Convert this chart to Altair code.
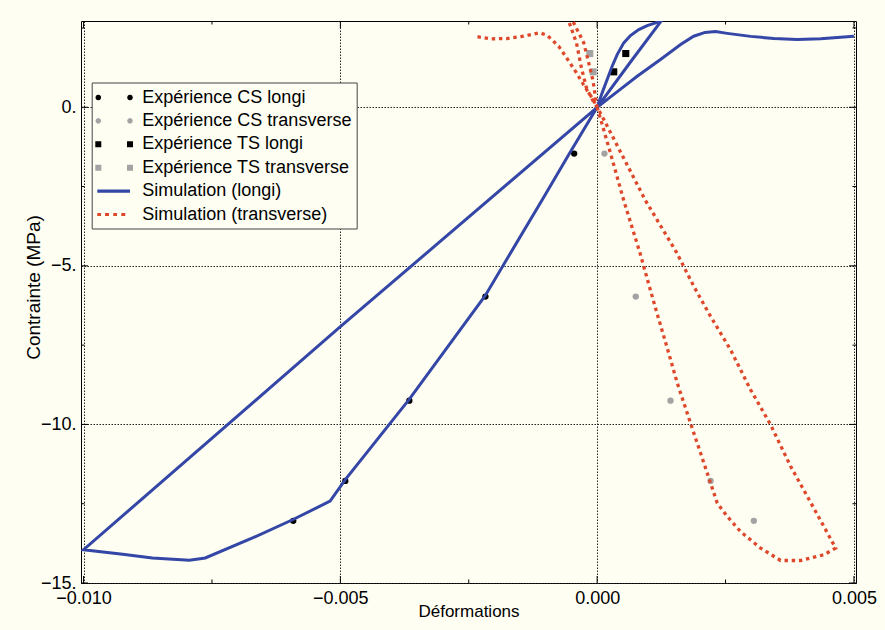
import math
import altair as alt
import pandas as pd

# ---------------- data ----------------
cs_stress = [-1.46, -5.97, -9.25, -11.78, -13.04]
cs_longi_strain = [-0.000448, -0.002176, -0.003657, -0.004904, -0.005917]
cs_trans_strain = [0.000142, 0.000752, 0.001428, 0.002208, 0.003051]

ts_stress = [1.117, 1.694]
ts_longi_strain = [0.000323, 0.000557]
ts_trans_strain = [-0.000078, -0.000144]

sim_longi_strain = [
    0.0, -0.00054, -0.00106, -0.00218, -0.00366, -0.0049, -0.0052,
    -0.00591, -0.00671, -0.00763, -0.00794, -0.00866, -0.00924, -0.0100,
    -0.005, 0.0,
    0.0000974, 0.000195, 0.000292, 0.00039, 0.000518, 0.000649, 0.000811,
    0.000974, 0.001136, 0.00127,
    0.000649, 0.0,
    0.0004, 0.000779, 0.001233, 0.001625, 0.00188, 0.002100, 0.002305,
    0.002533, 0.002988, 0.003441, 0.003897, 0.004351, 0.004741, 0.005,
]
sim_longi_stress = [
    0.0, -1.46, -2.89, -5.94, -9.21, -11.73, -12.42,
    -12.99, -13.58, -14.21, -14.28, -14.21, -14.09, -13.95,
    -6.92, 0.0,
    0.454, 0.874, 1.293, 1.662, 2.03, 2.26, 2.45,
    2.577, 2.66, 2.77,
    1.427, 0.0,
    0.5, 0.978, 1.505, 1.98, 2.24, 2.36, 2.385,
    2.33, 2.235, 2.168, 2.140, 2.158, 2.208, 2.24,
]

sim_trans_strain = [
    0.0, 0.00026, 0.000518, 0.00083, 0.000961, 0.001136, 0.001364,
    0.001559, 0.001818, 0.002013, 0.002208, 0.002338, 0.002533, 0.002792,
    0.003182, 0.003572, 0.003961, 0.004415, 0.004643,
    0.004415, 0.004092, 0.003767, 0.003377, 0.002987, 0.002597, 0.002208,
    0.001882, 0.001545, 0.000941, 0.0000974, 0.0,
    -0.0000331, -0.0000779, -0.000164, -0.000261, -0.000423, -0.00056,
    -0.000616, -0.000553, -0.000403, -0.000306, -0.000208, -0.00008, 0.0,
    -0.0000974, -0.000228, -0.000403, -0.000573, -0.000748, -0.000974,
    -0.001118, -0.00143, -0.001754, -0.002079, -0.002391,
]
sim_trans_stress = [
    0.0, -1.45, -2.94, -4.57, -5.33, -6.33, -7.59,
    -8.69, -9.96, -10.90, -11.85, -12.48, -12.90, -13.38,
    -13.90, -14.29, -14.29, -14.11, -13.90,
    -13.22, -12.27, -11.32, -10.01, -8.905, -7.644, -6.593,
    -5.647, -4.574, -2.94, -0.284, 0.0,
    0.297, 0.82, 1.40, 2.03, 2.555, 3.0,
    3.0, 2.713, 2.03, 1.243, 0.612, 0.2, 0.0,
    0.297, 0.612, 1.085, 1.505, 1.924, 2.271,
    2.347, 2.24, 2.167, 2.158, 2.24,
]

series_names = [
    "Expérience CS longi",
    "Expérience CS transverse",
    "Expérience TS longi",
    "Expérience TS transverse",
    "Simulation (longi)",
    "Simulation (transverse)",
]

x_major = [-0.010, -0.005, 0.0, 0.005]
x_minor = [-0.0075, -0.0025, 0.0025]
y_major = [-15, -10, -5, 0]
y_minor = [-12.5, -7.5, -2.5, 2.5]

# ---------------- styles ----------------
CREAM = "#FEFEF3"
BLUE = "#3446A6"
RED = "#DF472B"
GREY = "#A3A3A3"
BLACK = "#000000"
colors = [BLACK, GREY, BLACK, GREY, BLUE, RED]
FONT = "Liberation Sans"


def poly_dot(cx, r, n=12):
    pts = [(cx + r * math.cos(2 * math.pi * k / n), r * math.sin(2 * math.pi * k / n))
           for k in range(n)]
    s = f"M{pts[0][0]:.3f},{pts[0][1]:.3f}"
    for px, py in pts[1:]:
        s += f"L{px:.3f},{py:.3f}"
    return s + "Z"


def rect(x0, x1, h):
    return f"M{x0},{-h}L{x1},{-h}L{x1},{h}L{x0},{h}Z"


legend_paths = [
    poly_dot(-0.84, 0.28) + poly_dot(2.33, 0.28),
    poly_dot(-0.84, 0.28) + poly_dot(2.33, 0.28),
    rect(-1.14, -0.54, 0.3) + rect(2.03, 2.63, 0.3),
    rect(-1.14, -0.54, 0.3) + rect(2.03, 2.63, 0.3),
    rect(-0.94, 2.33, 0.16),
    rect(-0.94, -0.57, 0.15) + rect(-0.17, 0.23, 0.15)
    + rect(0.66, 1.03, 0.15) + rect(1.46, 1.86, 0.15),
]

# ---------------- tables ----------------
blue_df = pd.DataFrame({"x": sim_longi_strain, "y": sim_longi_stress,
                        "i": list(range(len(sim_longi_strain)))})
red_df = pd.DataFrame({"x": sim_trans_strain, "y": sim_trans_stress,
                       "i": list(range(len(sim_trans_strain)))})
leg_df = pd.DataFrame({"x": [0.0] * 6, "y": [0.0] * 6, "series": series_names})

W, H = 775, 562
xs = alt.Scale(domain=[-0.01005, 0.00504], nice=False, zero=False)
ys = alt.Scale(domain=[-15, 2.72], nice=False, zero=False)

x_axis = alt.Axis(values=x_major, format=".3f", ticks=False, domain=False,
                  grid=True, labelPadding=6, title="Déformations",
                  titleY=33, titleBaseline="alphabetic")
y_axis = alt.Axis(values=y_major, labelExpr="format(datum.value, 'd') + '.'",
                  ticks=False, domain=False, grid=True, labelPadding=5,
                  title="Contrainte (MPa)", titleX=-48, titleY=266,
                  titleAngle=270, titleBaseline="middle", titleAlign="center",
                  titleFontSize=19)

X = alt.X("x:Q", scale=xs, axis=x_axis)
Y = alt.Y("y:Q", scale=ys, axis=y_axis)


# frame ticks pointing inward (positions from the tick arrays, through the scales)
def x_tick_rules(values, length):
    df = pd.DataFrame({"x": values})
    top = alt.Chart(df).mark_rule(color="black", strokeWidth=1).encode(
        x=X, y=alt.value(0), y2=alt.value(length))
    bottom = alt.Chart(df).mark_rule(color="black", strokeWidth=1).encode(
        x=X, y=alt.value(H), y2=alt.value(H - length))
    return [top, bottom]


def y_tick_rules(values, length):
    df = pd.DataFrame({"y": values})
    left = alt.Chart(df).mark_rule(color="black", strokeWidth=1).encode(
        y=Y, x=alt.value(0), x2=alt.value(length))
    right = alt.Chart(df).mark_rule(color="black", strokeWidth=1).encode(
        y=Y, x=alt.value(W), x2=alt.value(W - length))
    return [left, right]


tick_layers = (x_tick_rules(x_major, 7) + x_tick_rules(x_minor, 3.5)
               + y_tick_rules(y_major, 7) + y_tick_rules(y_minor, 3.5))


def point_layer(strain, stress, shape, color, size):
    df = pd.DataFrame({"x": strain, "y": stress})
    return alt.Chart(df).mark_point(
        shape=shape, filled=True, size=size, opacity=1, strokeWidth=0, color=color
    ).encode(x=X, y=Y)


points = [
    point_layer(cs_longi_strain, cs_stress, "circle", BLACK, 40),
    point_layer(cs_trans_strain, cs_stress, "circle", GREY, 40),
    point_layer(ts_longi_strain, ts_stress, "square", BLACK, 50),
    point_layer(ts_trans_strain, ts_stress, "square", GREY, 50),
]

blue_line = alt.Chart(blue_df).mark_line(
    color=BLUE, strokeWidth=3, clip=True
).encode(x=X, y=Y, order="i:Q")

red_line = alt.Chart(red_df).mark_line(
    color=RED, strokeWidth=3.3, strokeDash=[3.4, 3.8], clip=True
).encode(x=X, y=Y, order="i:Q")

legend = alt.Legend(
    orient="none", legendX=10.7, legendY=61.5, title=None, padding=5,
    rowPadding=4.4, strokeColor="#444444", fillColor=CREAM, symbolSize=400,
    symbolStrokeWidth=0, labelOffset=25.6, labelFontSize=18, labelLimit=0,
    labelColor="black", labelFont=FONT,
)
legend_layer = alt.Chart(leg_df).mark_point(
    filled=True, size=1, opacity=1
).encode(
    x=X, y=Y,
    color=alt.Color("series:N", scale=alt.Scale(domain=series_names, range=colors),
                    legend=legend),
    shape=alt.Shape("series:N", scale=alt.Scale(domain=series_names, range=legend_paths),
                    legend=legend),
)

chart = alt.layer(
    *tick_layers, *points, blue_line, red_line, legend_layer
).properties(
    width=W, height=H,
    autosize=alt.AutoSizeParams(type="none"),
    padding={"left": 81, "top": 21, "right": 29, "bottom": 47},
).configure(
    background=CREAM, font=FONT,
).configure_view(
    stroke="black", strokeWidth=1, fill=CREAM,
).configure_axis(
    labelFont=FONT, labelFontSize=18, labelColor="black",
    titleFont=FONT, titleFontSize=17, titleFontWeight="normal", titleColor="black",
    gridColor="#222222", gridDash=[1.5, 1.5], gridWidth=1, gridOpacity=1,
)

chart.save("out.html", embed_options={"renderer": "svg", "actions": False})
